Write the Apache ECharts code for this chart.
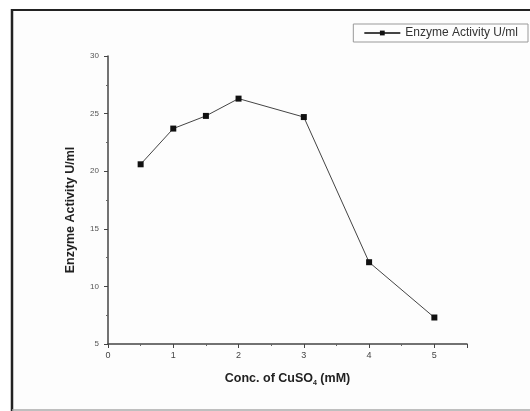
<!DOCTYPE html>
<html>
<head>
<meta charset="utf-8">
<script src="https://cdn.jsdelivr.net/npm/echarts@6/dist/echarts.min.js"></script>
<style>
  html, body { margin: 0; padding: 0; background: #fff; }
  #chart { width: 530px; height: 411px; }
</style>
</head>
<body>
<div id="chart"></div>
<script>
// CuSO4 concentration (mM) vs enzyme activity
const conc = [0.5, 1, 1.5, 2, 3, 4, 5]
const activity = [20.6, 23.7, 24.8, 26.3, 24.7, 12.1, 7.3]
const seriesName = 'Enzyme Activity U/ml'

const chart = echarts.init(document.getElementById('chart'))
const font = 'Liberation Sans, Arial, sans-serif'

const option = {
  backgroundColor: '#fff',
  animation: false,
  graphic: [
    // page frame: dark top/left, light bottom, open on the right
    { type: 'rect', shape: { x: 12, y: 10, width: 530, height: 400 }, style: { fill: '#fdfdfd' }, z: -10 },
    { type: 'line', shape: { x1: 12, y1: 10, x2: 530, y2: 10 }, style: { stroke: '#222', lineWidth: 2 } },
    { type: 'line', shape: { x1: 12, y1: 9, x2: 12, y2: 411 }, style: { stroke: '#222', lineWidth: 2.5 } },
    { type: 'line', shape: { x1: 12, y1: 410, x2: 530, y2: 410 }, style: { stroke: '#aaa', lineWidth: 1.5 } }
  ],
  legend: {
    right: 2,
    top: 24,
    data: [seriesName],
    itemWidth: 36,
    itemHeight: 6,
    itemGap: 7,
    padding: [3, 10],
    borderColor: '#999',
    borderWidth: 1,
    textStyle: { fontFamily: font, fontSize: 12, color: '#333' }
  },
  grid: { left: 108, right: 63, top: 56, bottom: 67 },
  xAxis: {
    type: 'value',
    min: 0,
    max: 5.5,
    interval: 1,
    name: '{a|Conc. of CuSO}{s|4}{a| (mM)}',
    nameLocation: 'middle',
    nameGap: 27,
    nameTextStyle: {
      rich: {
        a: { fontFamily: font, fontSize: 12.5, fontWeight: 'bold', color: '#222' },
        s: { fontFamily: font, fontSize: 7, fontWeight: 'bold', color: '#222', padding: [9, 0, 0, 0] }
      }
    },
    axisLine: { lineStyle: { color: '#444', width: 1.5 } },
    axisTick: { inside: false, length: 4, lineStyle: { color: '#444' } },
    minorTick: { show: true, splitNumber: 2, length: 2, lineStyle: { color: '#666' } },
    axisLabel: {
      fontFamily: font, fontSize: 9, color: '#444', margin: 7,
      formatter: v => (v > 5 ? '' : v)
    },
    splitLine: { show: false }
  },
  yAxis: {
    type: 'value',
    min: 5,
    max: 30,
    interval: 5,
    name: 'Enzyme Activity U/ml',
    nameLocation: 'middle',
    nameGap: 31,
    nameTextStyle: {
      fontFamily: font, fontSize: 12.5, fontWeight: 'bold', color: '#222',
      padding: [0, 20, 0, 0]
    },
    axisLine: { show: true, lineStyle: { color: '#444', width: 1.5 } },
    axisTick: { show: true, length: 4, lineStyle: { color: '#444' } },
    minorTick: { show: true, splitNumber: 2, length: 2, lineStyle: { color: '#666' } },
    axisLabel: { fontFamily: font, fontSize: 8, color: '#555', margin: 9 },
    splitLine: { show: false }
  },
  series: [{
    name: seriesName,
    type: 'line',
    data: conc.map((x, i) => [x, activity[i]]),
    symbol: 'rect',
    symbolSize: 6,
    lineStyle: { color: '#444', width: 1 },
    itemStyle: { color: '#111' }
  }]
}

chart.setOption(option)
</script>
</body>
</html>
